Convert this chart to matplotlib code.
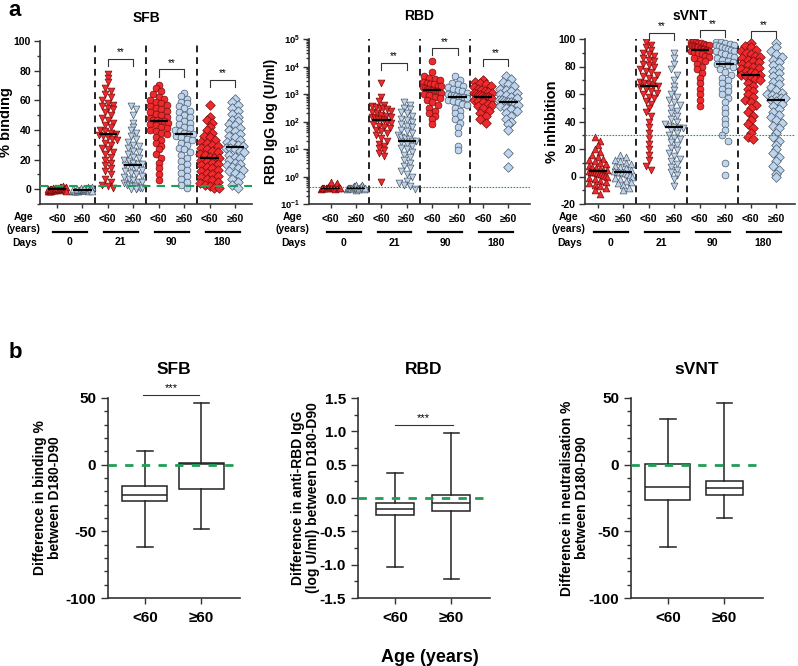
import numpy as np
import matplotlib
matplotlib.use('Agg')
import matplotlib.pyplot as plt
from matplotlib.ticker import MultipleLocator, FixedLocator, FixedFormatter, LogLocator, NullFormatter

plt.rcParams['font.family'] = ['Liberation Sans', 'DejaVu Sans']
plt.rcParams['font.weight'] = 'bold'
plt.rcParams['axes.labelweight'] = 'bold'
plt.rcParams['axes.unicode_minus'] = False
plt.rcParams['mathtext.fontset'] = 'custom'
plt.rcParams['mathtext.rm'] = 'Liberation Sans:bold'
plt.rcParams['mathtext.bf'] = 'Liberation Sans:bold'

# ---- data ----
ages = ['<60', '≥60']
days = ['0', '21', '90', '180']

# SFB % binding
sfb_lt60_d0 = [-1.5, -1.2, -1, -1, -0.8, -0.6, -0.5, -0.4, -0.3, -0.2, -0.1, 0, 0, 0.1, 0.2, 0.3,
               0.4, 0.5, 0.6, 0.8, 1, 1.2, 1.5, 2, -0.7, 0.7, -0.2, 0.1, 1.8, -1.3]
sfb_ge60_d0 = [-1.5, -1.3, -1.1, -1, -0.9, -0.8, -0.7, -0.6, -0.5, -0.5, -0.4, -0.3, -0.2, 0, 0.2,
               0.4, 0.6, 0.9, 1.2, 1.5, -1.2, -0.6, 0.1, -0.9]
sfb_lt60_d21 = [78, 75, 72, 68, 66, 64, 62, 60, 58, 57, 56, 55, 54, 52, 50, 48, 47, 45, 43, 42, 40, 39,
                38, 37, 36.5, 36, 35, 34, 33, 31, 30, 28, 27, 25, 24, 22, 20, 18, 16, 14, 12, 10, 7, 5,
                3, 2, 1]
sfb_ge60_d21 = [56, 54, 50, 45, 42, 40, 38, 36, 34, 32, 30, 29, 28, 26, 25, 24, 22, 21, 20, 19, 18, 17,
                17, 16, 15, 14, 13, 12, 11, 10, 9, 8, 7, 6, 5, 5, 4, 3, 3, 2, 2, 1, 1, 0.5, 0, 0]
sfb_lt60_d90 = [70, 68, 66, 64, 62, 61, 60, 59, 58, 57, 56, 55, 54, 53, 52, 51, 50, 49, 48, 47, 46.5, 46,
                46, 45, 44, 43, 42, 41, 40, 39, 38, 37, 35, 33, 31, 29, 27, 24, 21, 18, 14, 10, 6]
sfb_ge60_d90 = [65, 63, 61, 59, 58, 56, 55, 53, 52, 50, 49, 48, 46, 45, 44, 42, 41, 40, 39, 38, 37, 37,
                36, 35, 34, 33, 31, 30, 28, 27, 25, 23, 21, 19, 17, 15, 13, 11, 9, 7, 5, 3, 1]
sfb_lt60_d180 = [57, 49, 47, 45, 42, 40, 38, 36, 35, 33, 32, 31, 30, 29, 28, 27, 26, 25, 24, 23, 22, 21,
                 21, 20, 19, 18, 17, 16, 15, 14, 13, 12, 11, 10, 9, 8, 7, 6, 5, 4, 3, 2, 1, 0.5]
sfb_ge60_d180 = [61, 59, 57, 55, 53, 51, 49, 47, 46, 44, 43, 41, 40, 39, 37, 36, 35, 33, 32, 31, 30, 29,
                 28, 28, 27, 26, 25, 23, 22, 21, 20, 18, 17, 16, 15, 14, 13, 12, 11, 9, 7, 5, 3, 1]

# RBD IgG, log10 of U/ml
rbd_lt60_d0 = [-0.45, -0.42, -0.4, -0.4, -0.4, -0.4, -0.38, -0.35, -0.35, -0.32, -0.3, -0.42, -0.4,
               -0.45, -0.3, -0.19, -0.25, -0.4, -0.38, -0.43]
rbd_ge60_d0 = [-0.48, -0.45, -0.42, -0.4, -0.4, -0.4, -0.38, -0.35, -0.33, -0.3, -0.42, -0.45, -0.4,
               -0.36, -0.3, -0.38, -0.44, -0.4]
rbd_lt60_d21 = [3.4, 2.9, 2.75, 2.6, 2.55, 2.52, 2.5, 2.48, 2.45, 2.4, 2.35, 2.3, 2.25, 2.2, 2.18, 2.15,
                2.12, 2.1, 2.08, 2.05, 2.0, 1.95, 1.9, 1.85, 1.8, 1.75, 1.7, 1.65, 1.6, 1.5, 1.4, 1.3,
                1.2, 1.1, 1.05, 0.95, 0.85, 0.75, -0.2]
rbd_ge60_d21 = [2.7, 2.6, 2.5, 2.45, 2.35, 2.3, 2.2, 2.1, 2.05, 2.0, 1.9, 1.85, 1.8, 1.7, 1.65, 1.6, 1.5,
                1.45, 1.4, 1.35, 1.3, 1.3, 1.25, 1.2, 1.1, 1.05, 1.0, 0.9, 0.8, 0.7, 0.6, 0.5, 0.4, 0.3,
                0.2, 0.1, 0.0, -0.15, -0.25, -0.3, -0.35, -0.45]
rbd_lt60_d90 = [4.2, 3.8, 3.65, 3.6, 3.55, 3.5, 3.45, 3.4, 3.38, 3.35, 3.3, 3.28, 3.25, 3.22, 3.2, 3.18,
                3.15, 3.15, 3.12, 3.1, 3.08, 3.05, 3.0, 2.95, 2.9, 2.85, 2.8, 2.7, 2.6, 2.5, 2.4, 2.3,
                2.2, 2.1, 1.9]
rbd_ge60_d90 = [3.65, 3.5, 3.4, 3.35, 3.3, 3.25, 3.2, 3.15, 3.1, 3.05, 3.0, 2.98, 2.95, 2.92, 2.9, 2.9,
                2.88, 2.85, 2.8, 2.75, 2.7, 2.65, 2.6, 2.5, 2.4, 2.3, 2.2, 2.1, 1.95, 1.8, 1.6, 1.1, 0.95]
rbd_lt60_d180 = [3.5, 3.45, 3.4, 3.35, 3.3, 3.25, 3.2, 3.15, 3.1, 3.08, 3.05, 3.02, 3.0, 2.98, 2.95,
                 2.92, 2.9, 2.9, 2.88, 2.85, 2.82, 2.8, 2.75, 2.7, 2.65, 2.6, 2.55, 2.5, 2.4, 2.3, 2.2,
                 2.1, 1.95]
rbd_ge60_d180 = [3.65, 3.55, 3.45, 3.35, 3.3, 3.2, 3.15, 3.1, 3.05, 3.0, 2.95, 2.9, 2.85, 2.8, 2.78,
                 2.75, 2.72, 2.7, 2.7, 2.68, 2.65, 2.6, 2.55, 2.5, 2.45, 2.4, 2.3, 2.2, 2.1, 2.0, 1.9,
                 1.7, 0.85, 0.35]

# sVNT % inhibition
svnt_lt60_d0 = [29, 26, 23, 20, 18, 16, 14, 13, 12, 11, 10, 9, 8, 7, 6, 5.5, 5, 4.5, 4, 3.5, 3.5, 3,
                2.5, 2, 1.5, 1, 0.5, 0, -1, -2, -3, -4, -5, -6, -7, -8, -10, -13]
svnt_ge60_d0 = [16, 14, 12, 11, 10, 9, 8, 7, 6, 5, 4, 3.5, 3, 3, 2.5, 2, 1, 0, -1, -2, -3, -4, -5, -6,
                -8, -10]
svnt_lt60_d21 = [98, 96, 94, 92, 90, 89, 88, 86, 85, 84, 82, 81, 80, 78, 77, 76, 74, 73, 72, 70, 69, 68,
                 67, 66, 65.5, 65, 64, 62, 61, 60, 58, 57, 55, 53, 50, 47, 44, 40, 36, 32, 28, 24, 20,
                 16, 12, 8, 5]
svnt_ge60_d21 = [90, 86, 82, 78, 74, 70, 66, 63, 60, 58, 56, 54, 52, 50, 48, 46, 44, 42, 40, 38, 37, 36,
                 35.5, 35, 34, 32, 30, 28, 27, 25, 23, 21, 19, 17, 15, 13, 11, 9, 7, 5, 3, 1, -2, -7]
svnt_lt60_d90 = [98, 98, 97.5, 97, 97, 96.5, 96, 96, 95.5, 95, 95, 94.5, 94, 94, 93.5, 93, 93, 92.5, 92,
                 92, 91.5, 91, 90.5, 90, 89, 88, 87, 86, 85, 84, 82, 80, 78, 75, 72, 68, 64, 60, 56, 51]
svnt_ge60_d90 = [98, 97.5, 97, 96.5, 96, 95.5, 95, 94, 93.5, 93, 92, 91.5, 91, 90, 89, 88, 87, 86, 85, 84,
                 83, 82, 82, 81, 80, 78, 76, 74, 72, 70, 68, 66, 64, 62, 60, 57, 54, 50, 46, 42, 38, 34,
                 30, 26, 10, 1]
svnt_lt60_d180 = [97, 95, 94, 92, 91, 90, 89, 88, 87, 86, 85, 84, 83, 82, 81, 80, 79, 78, 77, 76, 75, 74,
                  73.5, 73, 72, 71, 70, 68, 66, 64, 62, 60, 58, 56, 54, 52, 50, 47, 44, 41, 38, 35, 32,
                  29, 27]
svnt_ge60_d180 = [97, 94, 91, 89, 87, 85, 83, 81, 79, 77, 75, 73, 71, 69, 67, 65, 63, 61, 60, 59, 58, 57,
                  57, 56, 55, 53, 51, 49, 47, 45, 43, 41, 39, 37, 35, 32, 29, 26, 23, 20, 17, 14, 11, 8,
                  5, 2, -0.5]

# thresholds
sfb_cutoff = 2
rbd_cutoff = 0.4
svnt_cutoff = 30

# brackets (** between age groups per day)
sfb_bracket_y = [88, 81, 74]
rbd_bracket_y = [10 ** 4.14, 10 ** 4.66, 10 ** 4.26]
svnt_bracket_y = [104.6, 106.5, 105.8]

# panel b: box stats [whislo, q1, med, q3, whishi]
sfb_box_lt60 = [-62, -27.5, -22.5, -16, 10]
sfb_box_ge60 = [-48.5, -18, 0.5, 1.5, 46]
rbd_box_lt60 = [-1.03, -0.25, -0.17, -0.07, 0.37]
rbd_box_ge60 = [-1.22, -0.19, -0.08, 0.05, 0.97]
svnt_box_lt60 = [-62, -26.5, -16.5, 0.5, 34.5]
svnt_box_ge60 = [-40, -23, -17.5, -12.5, 46]

# ---- figure ----
W, H = 798, 666
fig = plt.figure(figsize=(W / 100, H / 100), dpi=100)


def px_axes(l, t, r, b):
    return fig.add_axes([l / W, 1 - b / H, (r - l) / W, (b - t) / H])


RED, RED_E = '#ee2a2e', '#7a0c0c'
BLUE, BLUE_E = '#bdd5ee', '#4d5866'
GREEN = '#1f9e55'
markers = ['^', 'v', 'o', 'D']


def style_axes(ax):
    for s in ['top', 'right']:
        ax.spines[s].set_visible(False)
    for s in ['left', 'bottom']:
        ax.spines[s].set_linewidth(1.2)
        ax.spines[s].set_color('#333333')
    ax.tick_params(which='both', color='#333333', width=1.0)


def swarm(ax, pos, vals, halfw=0.36, row=6.0, gap=5.5):
    vals = np.asarray(vals, float)
    pts = ax.transData.transform(np.column_stack([np.full(len(vals), pos), vals]))
    xunit = ax.transData.transform([(pos + 1, vals[0])])[0, 0] - pts[0, 0]
    rows = np.round(pts[:, 1] / row).astype(int)
    xs = np.full(len(vals), float(pos))
    maxw = halfw * xunit
    for r in np.unique(rows):
        idx = np.where(rows == r)[0]
        n = len(idx)
        if n < 2:
            continue
        step = min(gap, 2 * maxw / (n - 1))
        xs[idx] = pos + (np.arange(n) - (n - 1) / 2) * step / xunit
    return xs


def dot_panel(ax, groups, cutoff, bracket_y, log=False, cut_style='dash', ytick_size=7.5):
    style_axes(ax)
    for i, vals in enumerate(groups):
        pos = i + 1
        v = np.asarray(vals, float)
        yv = 10 ** v if log else v
        xs = swarm(ax, pos, yv)
        young = i % 2 == 0
        ax.scatter(xs, yv, s=24, marker=markers[i // 2],
                   facecolor=RED if young else BLUE, edgecolor=RED_E if young else BLUE_E,
                   linewidths=0.5, zorder=3)
        med = 10 ** np.median(v) if log else np.median(v)
        ax.hlines(med, pos - 0.36, pos + 0.36, color='black', lw=1.6, zorder=4)
    for xd in [2.5, 4.5, 6.5]:
        ax.axvline(xd, color='#222222', lw=1.4, dashes=(3.5, 2.5), zorder=1)
    if cut_style == 'dash':
        ax.axhline(cutoff, color=GREEN, lw=1.5, dashes=(4, 3), zorder=5)
    else:
        ax.axhline(cutoff, color=GREEN, lw=0.8, dashes=(1.5, 1.2), zorder=5)
    for k, y in enumerate(bracket_y):
        x1, x2 = 3 + 2 * k, 4 + 2 * k
        yb = y / 10 ** 0.25 if log else y - 5
        ax.plot([x1, x1, x2, x2], [yb, y, y, yb], color='#333333', lw=0.8, clip_on=False)
        ax.annotate('**', xy=((x1 + x2) / 2, y), xytext=(0, 1), textcoords='offset points',
                    ha='center', va='bottom', fontsize=7, fontweight='normal', annotation_clip=False)
    ax.set_xticks(range(1, 9))
    ax.set_xticklabels(ages * 4, fontsize=7.5, fontweight='bold')
    ax.tick_params(axis='x', length=3, pad=4)
    ax.tick_params(axis='y', labelsize=ytick_size, pad=2.5)
    ax.tick_params(axis='y', which='major', length=4)
    ax.tick_params(axis='y', which='minor', length=2.5)
    for t in ax.get_yticklabels():
        t.set_fontweight('bold')
    tr = ax.get_xaxis_transform()
    for k, d in enumerate(days):
        c = 1.5 + 2 * k
        ax.plot([c - 0.65, c + 0.68], [-0.17, -0.17], transform=tr, color='black', lw=1.6,
                clip_on=False)
        ax.text(c, -0.235, d, transform=tr, ha='center', va='center', fontsize=7.5,
                fontweight='bold')
    ax.annotate('Age\n(years)', xy=(0, 0), xycoords='axes fraction', xytext=(-12, -13.5),
                textcoords='offset points', ha='center', va='center', fontsize=7.5,
                fontweight='bold', linespacing=1.3)
    ax.annotate('Days', xy=(0, 0), xycoords='axes fraction', xytext=(-11, -28),
                textcoords='offset points', ha='center', va='center', fontsize=7.5,
                fontweight='bold')


ax1 = px_axes(40, 41, 252, 204)
ax1.set_xlim(0.33, 8.67)
ax1.set_ylim(-10, 100)
ax1.yaxis.set_major_locator(MultipleLocator(20))
ax1.yaxis.set_minor_locator(MultipleLocator(10))
dot_panel(ax1, [sfb_lt60_d0, sfb_ge60_d0, sfb_lt60_d21, sfb_ge60_d21,
                sfb_lt60_d90, sfb_ge60_d90, sfb_lt60_d180, sfb_ge60_d180],
          sfb_cutoff, sfb_bracket_y)
ax1.set_ylabel('% binding', fontsize=10.5, fontweight='bold')
ax1.yaxis.set_label_coords(-0.125, 0.5)
ax1.set_title('SFB', fontsize=10, fontweight='bold', pad=14)

ax2 = px_axes(309, 39, 530, 204)
ax2.set_xlim(0.15, 8.85)
ax2.set_yscale('log')
ax2.set_ylim(0.1, 1e5)
exps = [-1, 0, 1, 2, 3, 4, 5]
ax2.yaxis.set_major_locator(FixedLocator([10.0 ** e for e in exps]))
ax2.yaxis.set_major_formatter(FixedFormatter([r'$\mathbf{10^{%d}}$' % e for e in exps]))
ax2.yaxis.set_minor_locator(LogLocator(base=10, subs=np.arange(2, 10)))
ax2.yaxis.set_minor_formatter(NullFormatter())
dot_panel(ax2, [rbd_lt60_d0, rbd_ge60_d0, rbd_lt60_d21, rbd_ge60_d21,
                rbd_lt60_d90, rbd_ge60_d90, rbd_lt60_d180, rbd_ge60_d180],
          rbd_cutoff, rbd_bracket_y, log=True, cut_style='dot', ytick_size=6.8)
ax2.set_ylabel('RBD IgG log (U/ml)', fontsize=10, fontweight='bold')
ax2.yaxis.set_label_coords(-0.14, 0.5)
ax2.set_title('RBD', fontsize=10, fontweight='bold', pad=14)

ax3 = px_axes(585, 39, 795, 204)
ax3.set_xlim(0.5, 8.74)
ax3.set_ylim(-20, 100)
ax3.yaxis.set_major_locator(MultipleLocator(20))
ax3.yaxis.set_minor_locator(MultipleLocator(10))
dot_panel(ax3, [svnt_lt60_d0, svnt_ge60_d0, svnt_lt60_d21, svnt_ge60_d21,
                svnt_lt60_d90, svnt_ge60_d90, svnt_lt60_d180, svnt_ge60_d180],
          svnt_cutoff, svnt_bracket_y, cut_style='dot')
ax3.set_ylabel('% inhibition', fontsize=10.5, fontweight='bold')
ax3.yaxis.set_label_coords(-0.124, 0.5)
ax3.set_title('sVNT', fontsize=10, fontweight='bold', pad=14)


# ---- panel b ----
def box_panel(ax, boxes, widths, ylim, major, minor, ylabel, title, labx):
    style_axes(ax)
    stats = [dict(whislo=b[0], q1=b[1], med=b[2], q3=b[3], whishi=b[4]) for b in boxes]
    line = dict(color='#222222', lw=1.1)
    ax.bxp(stats, positions=[1, 2], widths=widths, showfliers=False, patch_artist=True,
           boxprops=dict(facecolor='white', edgecolor='#222222', lw=1.1),
           whiskerprops=line, capprops=line, medianprops=line,
           capwidths=[0.28, 0.28], manage_ticks=False, zorder=3)
    ax.axhline(0, color=GREEN, lw=2.0, dashes=(3, 3), zorder=4)
    ax.set_xlim(0.35, 2.68)
    ax.set_ylim(*ylim)
    ax.yaxis.set_major_locator(MultipleLocator(major))
    ax.yaxis.set_minor_locator(MultipleLocator(minor))
    ax.set_xticks([1, 2])
    ax.set_xticklabels(ages, fontsize=11, fontweight='bold')
    ax.tick_params(axis='x', length=4, pad=5)
    ax.tick_params(axis='y', labelsize=11)
    ax.tick_params(axis='y', which='major', length=5)
    ax.tick_params(axis='y', which='minor', length=3)
    ax.set_ylabel(ylabel, fontsize=10, fontweight='bold', linespacing=1.1)
    ax.yaxis.set_label_coords(labx, 0.5)
    ax.set_title(title, fontsize=12.5, fontweight='bold', pad=17)


bx1 = px_axes(108, 398, 240, 598)
box_panel(bx1, [sfb_box_lt60, sfb_box_ge60], [0.8, 0.8], (-100, 50), 50, 10,
          'Difference in binding %\nbetween D180-D90', 'SFB', -0.35)
bx1.plot([0.97, 1.96], [52.5, 52.5], color='#333333', lw=0.8, clip_on=False)
bx1.text(1.47, 54, '***', ha='center', va='bottom', fontsize=8, fontweight='normal')

bx2 = px_axes(358, 398, 490, 598)
box_panel(bx2, [rbd_box_lt60, rbd_box_ge60], [0.67, 0.67], (-1.5, 1.5), 0.5, 0.25,
          'Difference in anti-RBD IgG\n(log U/ml) between D180-D90', 'RBD', -0.29)
bx2.yaxis.set_major_formatter(plt.FormatStrFormatter('%.1f'))
bx2.plot([1.01, 2.02], [1.1, 1.1], color='#333333', lw=0.8)
bx2.text(1.5, 1.13, '***', ha='center', va='bottom', fontsize=8, fontweight='normal')

bx3 = px_axes(631, 398, 763, 598)
box_panel(bx3, [svnt_box_lt60, svnt_box_ge60], [0.8, 0.65], (-100, 50), 50, 10,
          'Difference in neutralisation %\nbetween D180-D90', 'sVNT', -0.32)

fig.text(430 / W, 1 - 657 / H, 'Age (years)', ha='center', va='center', fontsize=13,
         fontweight='bold')
fig.text(15 / W, 1 - 11 / H, 'a', ha='center', va='center', fontsize=16, fontweight='bold')
fig.text(15 / W, 1 - 353 / H, 'b', ha='center', va='center', fontsize=16, fontweight='bold')

fig.savefig('out.png', dpi=100)
